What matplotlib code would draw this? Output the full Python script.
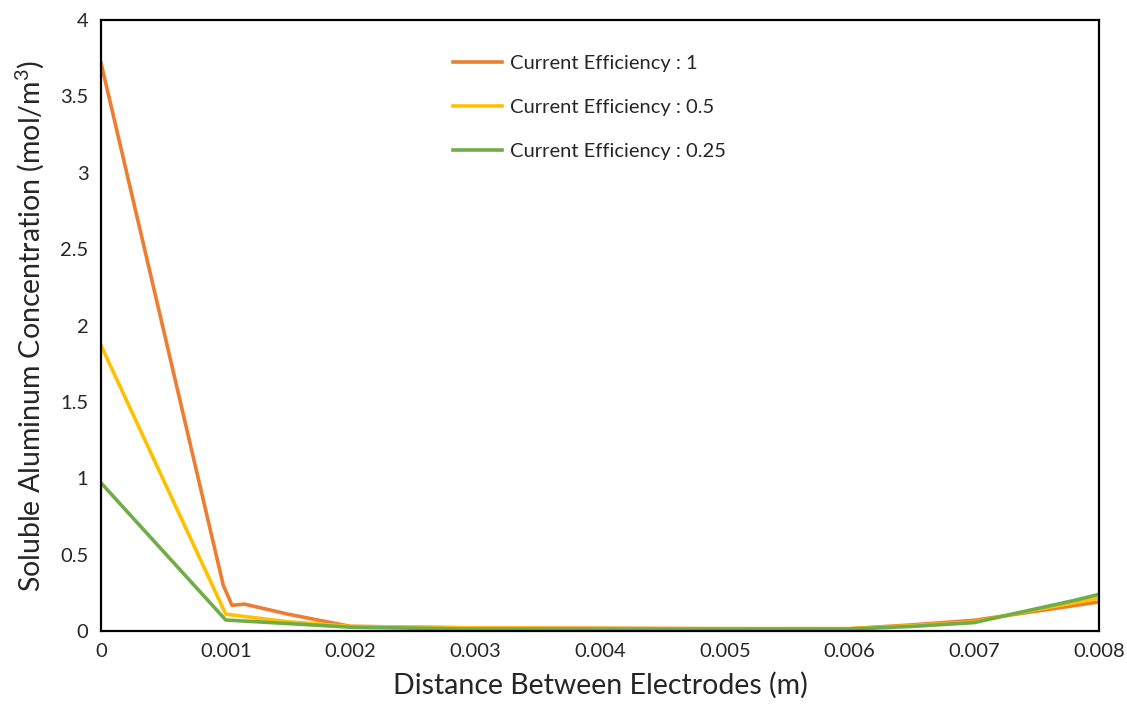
import matplotlib
matplotlib.use("Agg")
import matplotlib.pyplot as plt

plt.rcParams['font.family'] = ['Lato', 'DejaVu Sans']
plt.rcParams['mathtext.default'] = 'regular'

# readings
x_ce1 = [0, 0.00098, 0.00105, 0.00115, 0.0015, 0.002, 0.003, 0.004, 0.005, 0.006, 0.0065, 0.007, 0.0075, 0.008]
y_ce1 = [3.72, 0.30, 0.168, 0.176, 0.11, 0.03, 0.02, 0.018, 0.015, 0.015, 0.04, 0.07, 0.13, 0.19]

x_ce05 = [0, 0.001, 0.0015, 0.002, 0.003, 0.004, 0.005, 0.006, 0.0065, 0.007, 0.0075, 0.008]
y_ce05 = [1.87, 0.11, 0.06, 0.03, 0.02, 0.016, 0.015, 0.015, 0.035, 0.06, 0.14, 0.215]

x_ce025 = [0, 0.001, 0.002, 0.003, 0.004, 0.005, 0.006, 0.0065, 0.007, 0.0073, 0.0078, 0.008]
y_ce025 = [0.97, 0.072, 0.025, 0.012, 0.012, 0.012, 0.013, 0.03, 0.055, 0.11, 0.2, 0.24]

xticks = [0, 0.001, 0.002, 0.003, 0.004, 0.005, 0.006, 0.007, 0.008]
xtick_labels = ['0', '0.001', '0.002', '0.003', '0.004', '0.005', '0.006', '0.007', '0.008']
yticks = [0, 0.5, 1, 1.5, 2, 2.5, 3, 3.5, 4]
ytick_labels = ['0', '0.5', '1', '1.5', '2', '2.5', '3', '3.5', '4']

fig = plt.figure(figsize=(11.27, 7.15), dpi=100)
ax = fig.add_axes([0.0896, 0.1175, 0.8856, 0.8545])

ax.plot(x_ce1, y_ce1, color='#ED7D31', lw=2.6, label='Current Efficiency : 1')
ax.plot(x_ce05, y_ce05, color='#FFC000', lw=2.6, label='Current Efficiency : 0.5')
ax.plot(x_ce025, y_ce025, color='#70AD47', lw=2.6, label='Current Efficiency : 0.25')

ax.set_xlim(0, 0.008)
ax.set_ylim(0, 4)
ax.set_xticks(xticks)
ax.set_xticklabels(xtick_labels)
ax.set_yticks(yticks)
ax.set_yticklabels(ytick_labels)
ax.tick_params(length=0, labelsize=14.5, pad=9, colors='#262626')
for s in ax.spines.values():
    s.set_linewidth(1.6)
    s.set_color('black')

ax.set_xlabel('Distance Between Electrodes (m)', fontsize=20.5, color='#262626', labelpad=8)
ax.set_ylabel('Soluble Aluminum Concentration (mol/m$^3$)', fontsize=20.5, color='#262626', labelpad=10)

ax.legend(loc='upper left', bbox_to_anchor=(0.335, 0.972), frameon=False, fontsize=14.5,
          handlelength=2.4, handletextpad=0.4, labelspacing=1.33, labelcolor='#262626')

fig.savefig('out.png', dpi=100)
